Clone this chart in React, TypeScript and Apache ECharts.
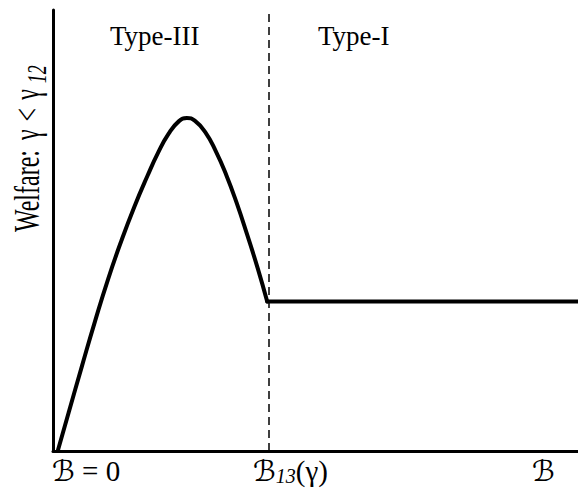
import React, { useEffect, useRef } from "react";
import * as echarts from "echarts";

// Hump (Type-III region)
const humpX = [0.9, 3, 5.5, 8, 10.5, 13, 15.5, 18, 20, 22, 24, 25.5, 27, 29, 31, 33, 35, 37, 39, 40.8];
const humpY = [0, 8.8, 19.2, 29.4, 39.0, 47.6, 55.4, 62.4, 67.6, 71.9, 74.8, 75.5, 74.9, 72.3, 68.0, 62.6, 56.2, 49.0, 41.4, 33.9];
// Flat part (Type-I region)
const flatX = [40.8, 100];
const flatY = [33.9, 33.9];
const B13 = 41.1;
const X_MIN = 0;
const X_MAX = 100;
const Y_MIN = 0;
const Y_MAX = 100;
const regionNames = ["Type-III", "Type-I"];

const FONT = "'Liberation Serif', 'DejaVu Serif', 'DejaVu Sans', serif";

export default function App() {
  const ref = useRef<HTMLDivElement>(null);
  useEffect(() => {
    if (!ref.current) return;
    const chart = echarts.init(ref.current, undefined, { renderer: "svg" });
    const lineStyle = { color: "#000", width: 4, cap: "round", join: "round" };
    const textBase = { fill: "#000", fontFamily: FONT, fontSize: 27 };
    const yRich = {
      m: { fontFamily: FONT, fontSize: 24, lineHeight: 24, verticalAlign: "top", color: "#000" },
      g: { fontFamily: FONT, fontSize: 24, lineHeight: 24, verticalAlign: "top", color: "#000", padding: [0, 4, 0, 4] },
      s: { fontFamily: FONT, fontSize: 18, fontStyle: "italic", lineHeight: 18, padding: [10, 0, 0, 2], verticalAlign: "top", color: "#000" },
    };
    const xRich = {
      m: { fontFamily: FONT, fontSize: 29, lineHeight: 29, verticalAlign: "top", color: "#000" },
      s: { fontFamily: FONT, fontSize: 20, fontStyle: "italic", lineHeight: 20, padding: [10, 0, 0, 0], verticalAlign: "top", color: "#000" },
    };
    chart.setOption({
      animation: false,
      grid: { left: 53, right: 0, top: 10, bottom: 38 },
      xAxis: {
        type: "value",
        min: X_MIN,
        max: X_MAX,
        axisLine: { show: true, lineStyle: { color: "#000", width: 3 } },
        axisTick: { show: false },
        axisLabel: { show: false },
        splitLine: { show: false },
      },
      yAxis: {
        type: "value",
        min: Y_MIN,
        max: Y_MAX,
        axisLine: { show: true, lineStyle: { color: "#000", width: 3 } },
        axisTick: { show: false },
        axisLabel: { show: false },
        splitLine: { show: false },
      },
      series: [
        {
          type: "line",
          data: humpX.map((x, i) => [x, humpY[i]]),
          smooth: 0.5,
          symbol: "none",
          lineStyle,
          clip: false,
        },
        {
          type: "line",
          data: flatX.map((x, i) => [x, flatY[i]]),
          symbol: "none",
          lineStyle,
          clip: false,
          markLine: {
            silent: true,
            symbol: "none",
            label: { show: false },
            lineStyle: { color: "#000", width: 1.5, type: [8, 5] },
            data: [{ xAxis: B13 }],
          },
        },
      ],
      graphic: [
        { type: "text", left: 110, top: 22, style: { ...textBase, text: regionNames[0] } },
        { type: "text", left: 318, top: 22, style: { ...textBase, text: regionNames[1] } },
        {
          type: "text",
          x: 9,
          y: 232,
          rotation: Math.PI / 2,
          scaleY: 1.5,
          style: {
            text: "{m|Welfare: }{g|γ}{g|<}{g|γ}{s|12}",
            rich: yRich,
            align: "left",
            verticalAlign: "top",
          },
        },
        {
          type: "text",
          x: 52,
          y: 456,
          style: { text: "{m|ℬ = 0}", rich: xRich, align: "left", verticalAlign: "top" },
        },
        {
          type: "text",
          x: 253,
          y: 456,
          style: { text: "{m|ℬ}{s|13}{m|(γ)}", rich: xRich, align: "left", verticalAlign: "top" },
        },
        {
          type: "text",
          x: 532,
          y: 456,
          style: { text: "{m|ℬ}", rich: xRich, align: "left", verticalAlign: "top" },
        },
      ],
    });
    return () => chart.dispose();
  }, []);
  return (
    <div
      ref={ref}
      style={{ position: "absolute", left: 0, top: 0, width: 578, height: 489, background: "#fff" }}
    />
  );
}
